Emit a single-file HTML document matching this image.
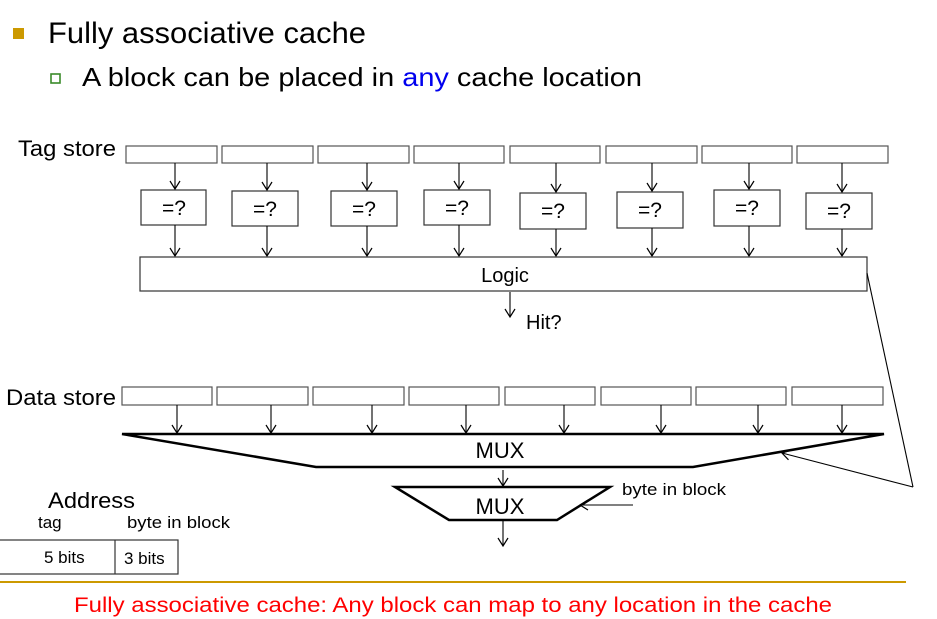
<!DOCTYPE html>
<html><head><meta charset="utf-8"><style>
html,body{margin:0;padding:0;background:#fff;}
svg{display:block;}
text{font-family:"Liberation Sans",Arial,sans-serif;fill:#000;}
</style></head><body>
<svg width="937" height="619" viewBox="0 0 937 619" xmlns="http://www.w3.org/2000/svg">
<defs>
<marker id="a" markerWidth="12" markerHeight="12" refX="10" refY="6" orient="auto" markerUnits="userSpaceOnUse" viewBox="0 0 12 12">
<path d="M2,1 L10,6 L2,11" fill="none" stroke="#000" stroke-width="1.2"/>
</marker>
</defs>
<rect x="13" y="28" width="11" height="11" fill="#cc9900"/>
<text x="48" y="43" font-size="30" textLength="318" lengthAdjust="spacingAndGlyphs">Fully associative cache</text>
<rect x="51" y="74" width="9" height="9" fill="none" stroke="#3a8a2a" stroke-width="1.6"/>
<text x="82" y="86" font-size="26" textLength="560" lengthAdjust="spacingAndGlyphs">A block can be placed in <tspan fill="#0000ee">any</tspan> cache location</text>

<text x="18" y="156" font-size="22" textLength="98" lengthAdjust="spacingAndGlyphs">Tag store</text>
<g fill="#fff" stroke="#555" stroke-width="1.2">
<rect x="126" y="146" width="91" height="17"/><rect x="222" y="146" width="91" height="17"/>
<rect x="318" y="146" width="91" height="17"/><rect x="414" y="146" width="90" height="17"/>
<rect x="510" y="146" width="90" height="17"/><rect x="606" y="146" width="91" height="17"/>
<rect x="702" y="146" width="90" height="17"/><rect x="797" y="146" width="91" height="17"/>
</g>
<g fill="#fff" stroke="#333" stroke-width="1.2">
<rect x="141" y="190" width="65" height="35"/><rect x="232" y="191" width="66" height="35"/>
<rect x="331" y="191" width="66" height="35"/><rect x="424" y="190" width="66" height="35"/>
<rect x="520" y="193" width="66" height="36"/><rect x="617" y="192" width="66" height="36"/>
<rect x="714" y="190" width="66" height="36"/><rect x="806" y="193" width="66" height="36"/>
</g>
<g font-size="21" text-anchor="middle">
<text x="174" y="215">=?</text><text x="265" y="216">=?</text><text x="364" y="216">=?</text><text x="457" y="215">=?</text>
<text x="553" y="218">=?</text><text x="650" y="217">=?</text><text x="747" y="215">=?</text><text x="839" y="218">=?</text>
</g>
<g stroke="#000" stroke-width="1.1" marker-end="url(#a)">
<line x1="175" y1="163" x2="175" y2="189"/><line x1="267" y1="163" x2="267" y2="190"/>
<line x1="367" y1="163" x2="367" y2="190"/><line x1="459" y1="163" x2="459" y2="189"/>
<line x1="556" y1="163" x2="556" y2="192"/><line x1="652" y1="163" x2="652" y2="191"/>
<line x1="749" y1="163" x2="749" y2="189"/><line x1="842" y1="163" x2="842" y2="192"/>
<line x1="175" y1="225" x2="175" y2="256"/><line x1="267" y1="226" x2="267" y2="256"/>
<line x1="367" y1="226" x2="367" y2="256"/><line x1="459" y1="225" x2="459" y2="256"/>
<line x1="556" y1="229" x2="556" y2="256"/><line x1="652" y1="228" x2="652" y2="256"/>
<line x1="749" y1="226" x2="749" y2="256"/><line x1="842" y1="229" x2="842" y2="256"/>
<line x1="510" y1="292" x2="510" y2="317"/>
</g>
<rect x="140" y="257" width="727" height="34" fill="none" stroke="#333" stroke-width="1.2"/>
<text x="505" y="282" font-size="20" text-anchor="middle">Logic</text>
<text x="526" y="329" font-size="20">Hit?</text>

<text x="6" y="405" font-size="22" textLength="110" lengthAdjust="spacingAndGlyphs">Data store</text>
<g fill="#fff" stroke="#555" stroke-width="1.2">
<rect x="122" y="387" width="90" height="18"/><rect x="217" y="387" width="91" height="18"/>
<rect x="313" y="387" width="91" height="18"/><rect x="409" y="387" width="90" height="18"/>
<rect x="505" y="387" width="90" height="18"/><rect x="601" y="387" width="90" height="18"/>
<rect x="696" y="387" width="90" height="18"/><rect x="792" y="387" width="91" height="18"/>
</g>
<g stroke="#000" stroke-width="1.1" marker-end="url(#a)">
<line x1="177" y1="405" x2="177" y2="433"/><line x1="271" y1="405" x2="271" y2="433"/>
<line x1="372" y1="405" x2="372" y2="433"/><line x1="466" y1="405" x2="466" y2="433"/>
<line x1="564" y1="405" x2="564" y2="433"/><line x1="661" y1="405" x2="661" y2="433"/>
<line x1="758" y1="405" x2="758" y2="433"/><line x1="842" y1="405" x2="842" y2="433"/>
<line x1="503" y1="470" x2="503" y2="486"/>
<line x1="503" y1="521" x2="503" y2="546"/>
<line x1="913" y1="487" x2="782" y2="453"/>
<line x1="633" y1="505" x2="580" y2="505"/>
</g>
<polygon points="122,434 884,434 693,467 316,467" fill="none" stroke="#000" stroke-width="2.5"/>
<text x="500" y="458" font-size="22" text-anchor="middle">MUX</text>
<polygon points="395,487 610,487 557,520 449,520" fill="none" stroke="#000" stroke-width="2.5"/>
<text x="500" y="514" font-size="22" text-anchor="middle">MUX</text>
<line x1="867" y1="273" x2="913" y2="487" stroke="#000" stroke-width="1.1"/>
<text x="622" y="495" font-size="17" textLength="104" lengthAdjust="spacingAndGlyphs">byte in block</text>

<text x="48" y="508" font-size="22" textLength="87" lengthAdjust="spacingAndGlyphs">Address</text>
<text x="38" y="528" font-size="17">tag</text>
<text x="127" y="528" font-size="17" textLength="103" lengthAdjust="spacingAndGlyphs">byte in block</text>
<rect x="-2" y="540" width="180" height="34" fill="none" stroke="#333" stroke-width="1.2"/>
<line x1="115" y1="540" x2="115" y2="574" stroke="#333" stroke-width="1.2"/>
<text x="44" y="563" font-size="17">5 bits</text>
<text x="124" y="564" font-size="17">3 bits</text>
<line x1="0" y1="582" x2="906" y2="582" stroke="#cc9900" stroke-width="2"/>
<text x="453" y="612" font-size="21" text-anchor="middle" style="fill:#ff0000" textLength="758" lengthAdjust="spacingAndGlyphs">Fully associative cache: Any block can map to any location in the cache</text>
</svg>
</body></html>
